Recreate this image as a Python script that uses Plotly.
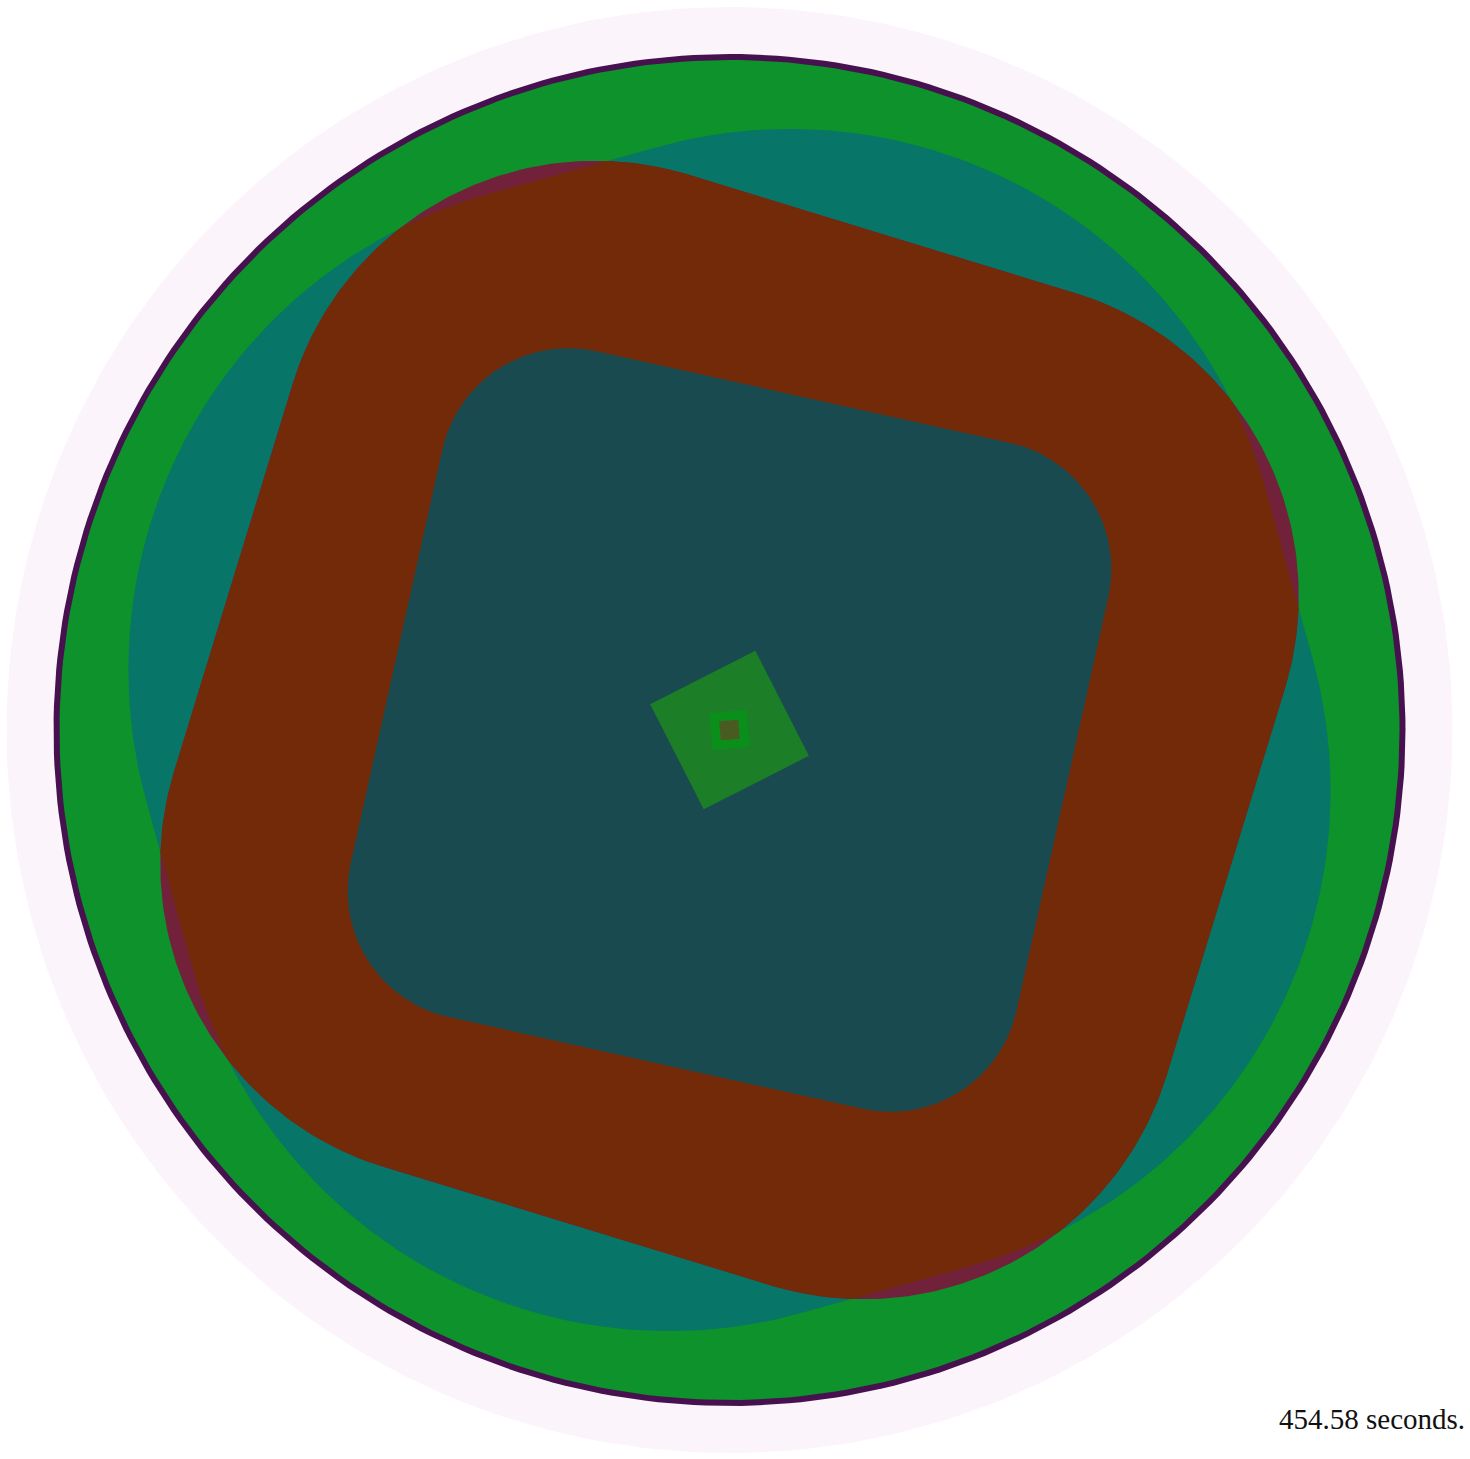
import numpy as np
import plotly.graph_objects as go

# canvas in pixels, all layers share one centre
canvas_w, canvas_h = 1470, 1459
centre_x, centre_y = 729.5, 730.0

# nested layers, back to front: half side, corner radius, rotation (deg, clockwise)
layer_names = ["halo", "rim", "field", "wide_square", "ring", "core", "seed", "seed_rim", "seed_dot"]
half_sides = [723, 676, 670, 581, 519, 341, 59, 18.5, 9.5]
corner_radii = [723, 676, 670, 494, 317, 129, 0, 0, 0]
rotations = [0, 0, 0, -15.5, 17, 12.5, -27, -6, -5]

# where the ring sits outside the wide square it turns a plum shade
ring_outside_colour = "#71223A"

colours = {
    "halo": "#FCF4FB",
    "rim": "#47114F",
    "field": "#0D922C",
    "wide_square": "#077567",
    "ring": "#732A08",
    "core": "#184A50",
    "seed": "#1C7F27",
    "seed_rim": "#0A901A",
    "seed_dot": "#4A5B21",
}

elapsed_label = "454.58 seconds."


def rounded_square(h, r, rot_deg, n=90):
    d = h - r
    parts = []
    for k, (sx, sy) in enumerate([(1, 1), (-1, 1), (-1, -1), (1, -1)]):
        t = np.radians(np.linspace(k * 90, k * 90 + 90, n))
        parts.append(np.c_[sx * d + r * np.cos(t), sy * d + r * np.sin(t)])
    p = np.vstack(parts)
    a = np.radians(rot_deg)
    x = p[:, 0] * np.cos(a) - p[:, 1] * np.sin(a)
    y = p[:, 0] * np.sin(a) + p[:, 1] * np.cos(a)
    return np.c_[x + centre_x, y + centre_y]


def clip_convex(subject, clipper):
    """Sutherland-Hodgman clip of a polygon by a convex polygon."""
    area = np.sum(clipper[:, 0] * np.roll(clipper[:, 1], -1) - np.roll(clipper[:, 0], -1) * clipper[:, 1])
    if area < 0:
        clipper = clipper[::-1]

    def inside(p, a, b):
        return (b[0] - a[0]) * (p[1] - a[1]) - (b[1] - a[1]) * (p[0] - a[0]) >= 0

    def cut(p, q, a, b):
        dp, db = q - p, b - a
        den = dp[0] * db[1] - dp[1] * db[0]
        t = ((a[0] - p[0]) * db[1] - (a[1] - p[1]) * db[0]) / den
        return p + t * dp

    out = list(subject)
    for i in range(len(clipper)):
        a, b = clipper[i], clipper[(i + 1) % len(clipper)]
        if np.allclose(a, b):
            continue
        src, out = out, []
        if not src:
            break
        prev = src[-1]
        for cur in src:
            if inside(cur, a, b):
                if not inside(prev, a, b):
                    out.append(cut(prev, cur, a, b))
                out.append(cur)
            elif inside(prev, a, b):
                out.append(cut(prev, cur, a, b))
            prev = cur
    return np.array(out)


def add_polygon(fig, pts, colour, name):
    fig.add_trace(
        go.Scatter(
            x=np.append(pts[:, 0], pts[0, 0]),
            y=np.append(pts[:, 1], pts[0, 1]),
            mode="lines",
            fill="toself",
            fillcolor=colour,
            line=dict(width=0, color=colour),
            hoverinfo="skip",
            name=name,
        )
    )


fig = go.Figure()
outlines = {}
for name, h, r, rot in zip(layer_names, half_sides, corner_radii, rotations):
    outlines[name] = rounded_square(h, r, rot)

for name in layer_names:
    if name == "ring":
        add_polygon(fig, outlines["ring"], ring_outside_colour, "ring_outside")
        inner = clip_convex(outlines["ring"], outlines["wide_square"])
        add_polygon(fig, inner, colours["ring"], "ring")
    else:
        add_polygon(fig, outlines[name], colours[name], name)

fig.add_annotation(
    text=elapsed_label,
    x=1467,
    y=1419,
    xanchor="right",
    yanchor="middle",
    showarrow=False,
    font=dict(family="Liberation Serif", size=29, color="#111111"),
)

fig.update_layout(
    width=canvas_w,
    height=canvas_h,
    margin=dict(l=0, r=0, t=0, b=0),
    paper_bgcolor="white",
    plot_bgcolor="white",
    showlegend=False,
    xaxis=dict(range=[0, canvas_w], visible=False, fixedrange=True),
    yaxis=dict(range=[canvas_h, 0], visible=False, fixedrange=True),
)

fig.write_html(
    "out.html",
    config={"displayModeBar": False},
    post_script="document.body.style.margin='0';document.body.style.overflow='hidden';",
)
